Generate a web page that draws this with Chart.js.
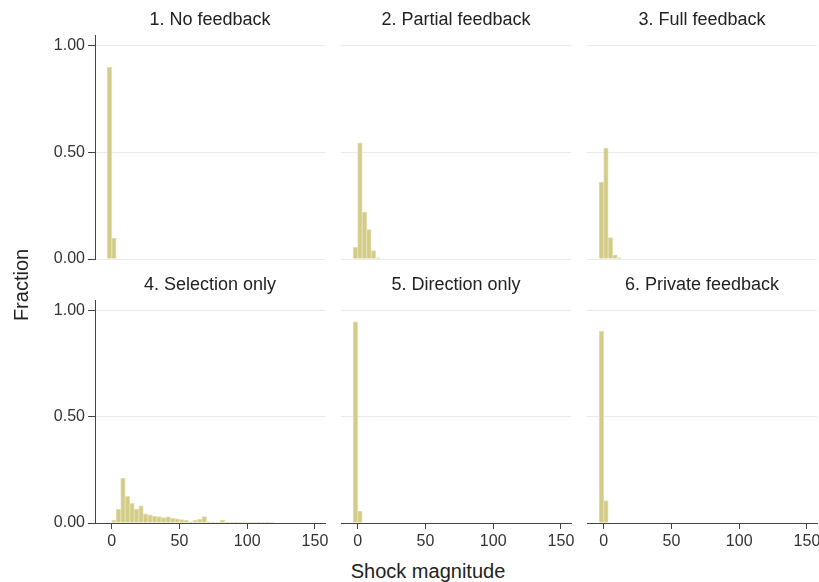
<!DOCTYPE html>
<html>
<head>
<meta charset="utf-8">
<script src="https://cdn.jsdelivr.net/npm/chart.js@4.4.1/dist/chart.umd.min.js"></script>
<style>
  body { margin: 0; background: #fff; width: 819px; height: 582px; overflow: hidden; position: relative;
         font-family: "Liberation Sans", Arial, sans-serif; }
  canvas { position: absolute; }
  .lab { position: absolute; color: #222; font-size: 20px; white-space: nowrap; line-height: 20px; }
</style>
</head>
<body>
<canvas id="p1" width="335" height="273" style="left:0;top:0"></canvas>
<canvas id="p2" width="240" height="273" style="left:341px;top:0"></canvas>
<canvas id="p3" width="240" height="273" style="left:587px;top:0"></canvas>
<canvas id="p4" width="335" height="288" style="left:0;top:265px"></canvas>
<canvas id="p5" width="240" height="288" style="left:341px;top:265px"></canvas>
<canvas id="p6" width="240" height="288" style="left:587px;top:265px"></canvas>
<div class="lab" id="ylab" style="left:-19px;top:275px;width:80px;text-align:center;transform:rotate(-90deg)">Fraction</div>
<div class="lab" id="xlab" style="left:328px;top:561px;width:200px;text-align:center">Shock magnitude</div>
<script>
// bin centres (shock magnitude), bins are 10/3 wide
var bins = [-1.67, 1.67, 5.00, 8.33, 11.67, 15.00, 18.33, 21.67, 25.00, 28.33, 31.67, 35.00,
            38.33, 41.67, 45.00, 48.33, 51.67, 55.00, 58.33, 61.67, 65.00, 68.33, 71.67, 75.00,
            78.33, 81.67, 85.00, 88.33, 91.67, 95.00, 98.33, 101.67, 105.00, 108.33, 111.67, 115.00, 118.33];

var titles = ['1. No feedback', '2. Partial feedback', '3. Full feedback',
              '4. Selection only', '5. Direction only', '6. Private feedback'];

// fraction per bin
var noFeedback = [0.900, 0.098];
var partialFeedback = [0.055, 0.545, 0.220, 0.138, 0.040, 0.006];
var fullFeedback = [0.360, 0.520, 0.100, 0.020, 0.006];
var selectionOnly = [0, 0.012, 0.064, 0.210, 0.125, 0.093, 0.066, 0.081, 0.043, 0.038, 0.033, 0.030,
                     0.025, 0.029, 0.022, 0.020, 0.016, 0.013, 0.006, 0.012, 0.019, 0.030, 0.006, 0.004,
                     0.002, 0.013, 0.003, 0.002, 0.001, 0.003, 0.002, 0.003, 0.001, 0.003, 0.002, 0.003, 0.002];
var directionOnly = [0.947, 0.056];
var privateFeedback = [0.903, 0.105];

var xTicks = [0, 50, 100, 150];
var yTicks = [0, 0.5, 1];

var series = [noFeedback, partialFeedback, fullFeedback, selectionOnly, directionOnly, privateFeedback];

function makePanel(i) {
	var leftCol = (i % 3 == 0);
	var bottomRow = (i >= 3);
	var vals = series[i];
	var pts = [];
	for (var k = 0; k < bins.length; k++) {
		var v = k < vals.length ? vals[k] : 0;
		pts.push({x: bins[k], y: v > 0 ? v : null});
	}

	new Chart(document.getElementById('p' + (i + 1)), {
		type: 'bar',
		data: {
			datasets: [{
				data: pts,
				backgroundColor: 'rgb(211,203,136)',
				borderColor: 'rgb(228,223,176)',
				borderWidth: 1,
				barPercentage: 1,
				categoryPercentage: 1
			}]
		},
		options: {
			responsive: false,
			animation: false,
			devicePixelRatio: 1,
			layout: { padding: { left: 0, top: 0, right: 10, bottom: bottomRow ? 0 : 14 } },
			plugins: {
				legend: { display: false },
				tooltip: { enabled: false },
				title: {
					display: true,
					text: titles[i],
					fullSize: false,
					color: '#222',
					font: { family: '"Liberation Sans", Arial, sans-serif', size: 18, weight: 'normal', lineHeight: 1.2 },
					padding: { top: 9, bottom: 4.4 }
				}
			},
			scales: {
				x: {
					type: 'linear',
					min: -12.3,
					max: 157.4,
					offset: false,
					display: bottomRow,
					afterBuildTicks: function(s) { s.ticks = xTicks.map(function(v) { return {value: v}; }); },
					afterFit: function(s) { s.height = bottomRow ? 30 : 0; },
					grid: { offset: false, drawOnChartArea: false, drawTicks: true, tickLength: 6, tickColor: '#444' },
					border: { display: true, color: '#444', width: 1 },
					ticks: {
						color: '#333',
						padding: 3,
						maxRotation: 0,
						font: { family: '"Liberation Sans", Arial, sans-serif', size: 16 }
					}
				},
				y: {
					min: 0,
					max: 1.05,
					afterBuildTicks: function(s) { s.ticks = yTicks.map(function(v) { return {value: v}; }); },
					afterFit: function(s) { s.width = leftCol ? 95 : 0; },
					grid: { color: '#ebebeb', lineWidth: 1, drawTicks: leftCol, tickLength: 7, tickColor: '#444' },
					border: { display: leftCol, color: '#444', width: 1 },
					ticks: {
						display: leftCol,
						color: '#333',
						padding: 3,
						font: { family: '"Liberation Sans", Arial, sans-serif', size: 16 },
						callback: function(v) { return Number(v).toFixed(2); }
					}
				}
			}
		}
	});
}

for (var i = 0; i < 6; i++) makePanel(i);
</script>
</body>
</html>
